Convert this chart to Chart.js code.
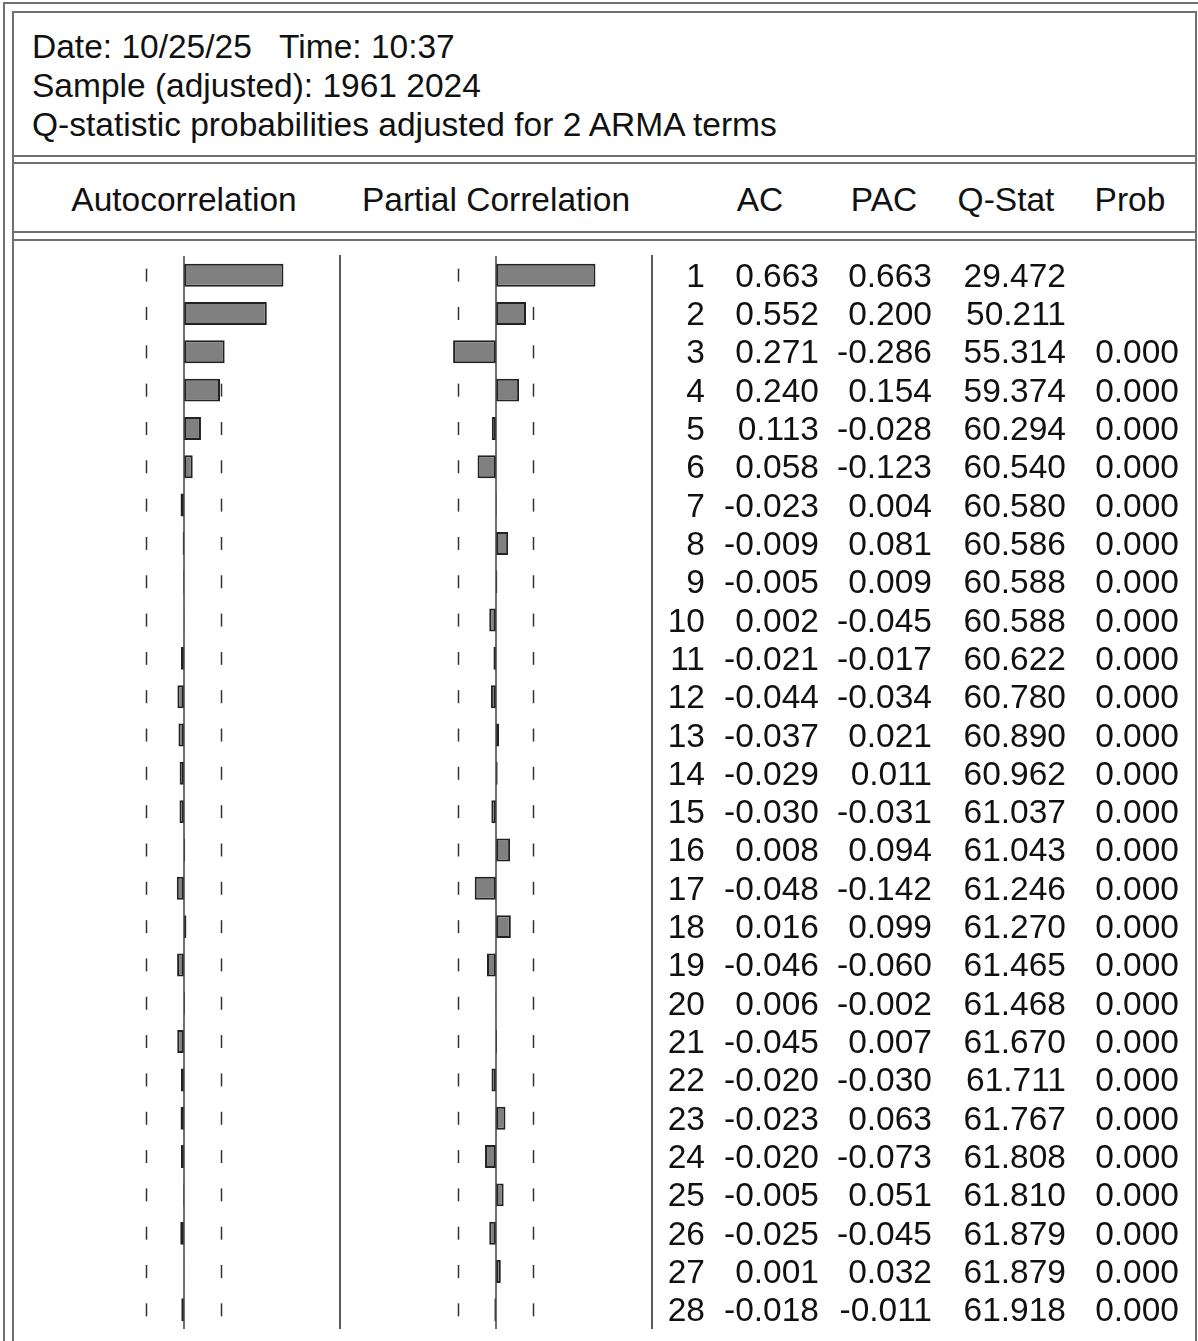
<!DOCTYPE html>
<html>
<head>
<meta charset="utf-8">
<script src="https://cdn.jsdelivr.net/npm/chart.js@4.4.1/dist/chart.umd.min.js"></script>
<style>
  html, body { margin: 0; padding: 0; background: #fff; }
  #page { position: relative; width: 1198px; height: 1341px; overflow: hidden; background: #fff;
          font-family: "Liberation Sans", Arial, sans-serif; font-size: 33.5px; color: #111; }
  .ln { position: absolute; background: #707070; }
  .dv { position: absolute; background: #5a5a5a; }
  .txt { position: absolute; white-space: pre; line-height: 39px; }
  .ctr { text-align: center; }
  .cell { position: absolute; white-space: pre; text-align: right; }
  canvas { position: absolute; }
</style>
</head>
<body>
<div id="page">
  <!-- outer and inner frames -->
  <div class="ln" style="left:3px;top:2px;width:1200px;height:2px"></div>
  <div class="ln" style="left:3px;top:2px;width:2px;height:1345px"></div>
  <div class="ln" style="left:12px;top:11px;width:1185px;height:2px"></div>
  <div class="ln" style="left:12px;top:11px;width:2px;height:1340px"></div>
  <div class="ln" style="left:1195px;top:11px;width:2px;height:1340px"></div>
  <!-- double rules under the header block and the column titles -->
  <div class="ln" style="left:12px;top:155px;width:1185px;height:2px"></div>
  <div class="ln" style="left:12px;top:162px;width:1185px;height:2px"></div>
  <div class="ln" style="left:12px;top:231px;width:1185px;height:2px"></div>
  <div class="ln" style="left:12px;top:239px;width:1185px;height:2px"></div>
  <!-- column dividers -->
  <div class="dv" style="left:339px;top:255px;width:2px;height:1074px"></div>
  <div class="dv" style="left:651px;top:255px;width:2px;height:1074px"></div>

  <div class="txt" id="hdr" style="left:32px;top:27px"></div>

  <div class="txt ctr" style="left:34px;top:180px;width:300px">Autocorrelation</div>
  <div class="txt ctr" style="left:346px;top:180px;width:300px">Partial Correlation</div>
  <div class="txt ctr" style="left:710px;top:180px;width:100px">AC</div>
  <div class="txt ctr" style="left:834px;top:180px;width:100px">PAC</div>
  <div class="txt ctr" style="left:946px;top:180px;width:120px">Q-Stat</div>
  <div class="txt ctr" style="left:1070px;top:180px;width:120px">Prob</div>

  <canvas id="acChart" width="300" height="1073" style="left:34px;top:256px;width:300px;height:1073px"></canvas>
  <canvas id="pacChart" width="300" height="1073" style="left:346px;top:256px;width:300px;height:1073px"></canvas>
  <div id="table"></div>
</div>

<script>
// Correlogram header
const headerLines = [
  "Date: 10/25/25   Time: 10:37",
  "Sample (adjusted): 1961 2024",
  "Q-statistic probabilities adjusted for 2 ARMA terms"
];
const nObs = 64;

// Lags and statistics
const lags = [1,2,3,4,5,6,7,8,9,10,11,12,13,14,15,16,17,18,19,20,21,22,23,24,25,26,27,28];
const acValues = [0.663, 0.552, 0.271, 0.240, 0.113, 0.058, -0.023, -0.009, -0.005, 0.002,
                  -0.021, -0.044, -0.037, -0.029, -0.030, 0.008, -0.048, 0.016, -0.046, 0.006,
                  -0.045, -0.020, -0.023, -0.020, -0.005, -0.025, 0.001, -0.018];
const pacValues = [0.663, 0.200, -0.286, 0.154, -0.028, -0.123, 0.004, 0.081, 0.009, -0.045,
                   -0.017, -0.034, 0.021, 0.011, -0.031, 0.094, -0.142, 0.099, -0.060, -0.002,
                   0.007, -0.030, 0.063, -0.073, 0.051, -0.045, 0.032, -0.011];
const qStats = [29.472, 50.211, 55.314, 59.374, 60.294, 60.540, 60.580, 60.586, 60.588, 60.588,
                60.622, 60.780, 60.890, 60.962, 61.037, 61.043, 61.246, 61.270, 61.465, 61.468,
                61.670, 61.711, 61.767, 61.808, 61.810, 61.879, 61.879, 61.918];
const probs = [null, null, 0.000, 0.000, 0.000, 0.000, 0.000, 0.000, 0.000, 0.000,
               0.000, 0.000, 0.000, 0.000, 0.000, 0.000, 0.000, 0.000, 0.000, 0.000,
               0.000, 0.000, 0.000, 0.000, 0.000, 0.000, 0.000, 0.000];

// approximate 2 standard error band
const band = 2 / Math.sqrt(nObs);

document.getElementById('hdr').textContent = headerLines.join('\n');

// Dotted confidence band (under the bars) and zero line (over them)
const panelGuides = {
  id: 'panelGuides',
  beforeDatasetsDraw(chart) {
    const { ctx, scales: { x, y } } = chart;
    ctx.save();
    ctx.strokeStyle = '#333';
    ctx.lineWidth = 1.5;
    lags.forEach((lag, i) => {
      const yc = y.getPixelForValue(i);
      [-band, band].forEach(b => {
        const xb = x.getPixelForValue(b);
        ctx.beginPath();
        ctx.moveTo(xb, yc - 6.5);
        ctx.lineTo(xb, yc + 6.5);
        ctx.stroke();
      });
    });
    ctx.restore();
  },
  afterDatasetsDraw(chart) {
    const { ctx, chartArea, scales: { x } } = chart;
    ctx.save();
    ctx.strokeStyle = '#4a4a4a';
    ctx.lineWidth = 1.6;
    const x0 = x.getPixelForValue(0);
    ctx.beginPath();
    ctx.moveTo(x0, chartArea.top - 1);
    ctx.lineTo(x0, chartArea.bottom);
    ctx.stroke();
    ctx.restore();
  }
};

function makePanel(id, values) {
  return new Chart(document.getElementById(id), {
    type: 'bar',
    data: {
      labels: lags,
      datasets: [{
        data: values,
        backgroundColor: '#808080',
        borderColor: '#222',
        borderWidth: 2,
        borderSkipped: false,
        barPercentage: 0.6,
        categoryPercentage: 1.0
      }]
    },
    options: {
      indexAxis: 'y',
      responsive: false,
      maintainAspectRatio: false,
      animation: false,
      events: [],
      layout: { padding: 0 },
      plugins: { legend: { display: false }, tooltip: { enabled: false } },
      scales: {
        x: { type: 'linear', min: -1, max: 1, display: false },
        y: { type: 'category', offset: true, display: false }
      }
    },
    plugins: [panelGuides]
  });
}

const acChart = makePanel('acChart', acValues);
makePanel('pacChart', pacValues);

// Numeric columns, one row per lag, aligned to the panel rows
const yScale = acChart.scales.y;
const canvasTop = 256;
const cols = [
  { right: 705, get: i => String(lags[i]) },
  { right: 819, get: i => acValues[i].toFixed(3) },
  { right: 932, get: i => pacValues[i].toFixed(3) },
  { right: 1066, get: i => qStats[i].toFixed(3) },
  { right: 1179, get: i => probs[i] === null ? '' : probs[i].toFixed(3) }
];
const table = document.getElementById('table');
lags.forEach((lag, i) => {
  const yc = canvasTop + yScale.getPixelForValue(i);
  cols.forEach(c => {
    const d = document.createElement('div');
    d.className = 'cell';
    d.style.left = (c.right - 200) + 'px';
    d.style.width = '200px';
    d.style.top = (yc - 19.5) + 'px';
    d.style.lineHeight = '39px';
    d.textContent = c.get(i);
    table.appendChild(d);
  });
});
</script>
</body>
</html>
